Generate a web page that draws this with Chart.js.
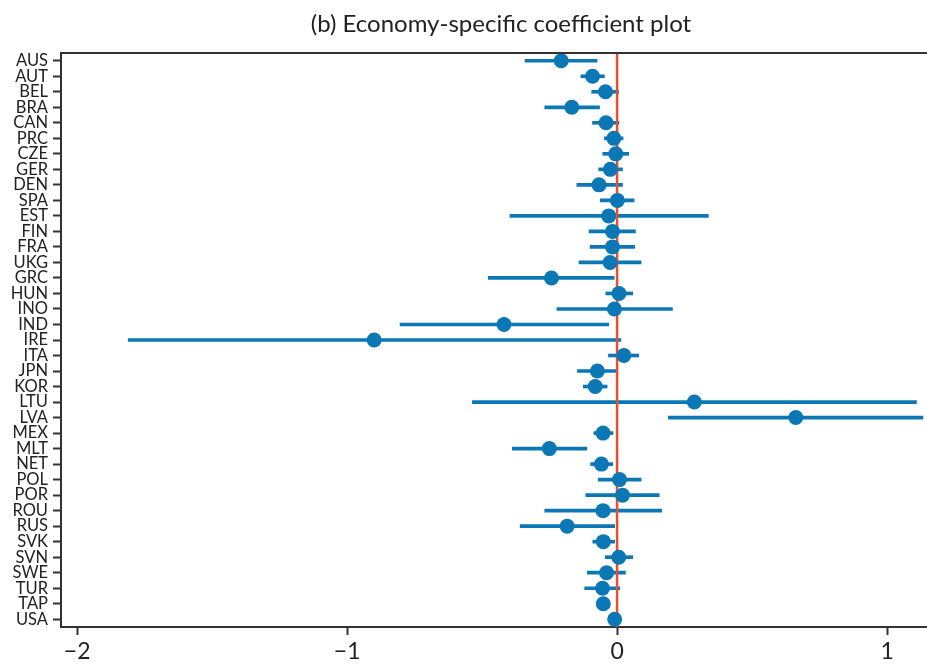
<!DOCTYPE html>
<html>
<head>
<meta charset="utf-8">
<script src="https://cdn.jsdelivr.net/npm/chart.js@4.4.1/dist/chart.umd.min.js"></script>
<style>
  html, body { margin: 0; padding: 0; background: #ffffff; }
  #wrap { width: 927px; height: 664px; position: relative; }
</style>
</head>
<body>
<div id="wrap"><canvas id="c" width="927" height="664"></canvas></div>
<script>
const categories = ["AUS","AUT","BEL","BRA","CAN","PRC","CZE","GER","DEN","SPA","EST","FIN","FRA","UKG","GRC","HUN","INO","IND","IRE","ITA","JPN","KOR","LTU","LVA","MEX","MLT","NET","POL","POR","ROU","RUS","SVK","SVN","SWE","TUR","TAP","USA"];
const estimates = [-0.207,-0.091,-0.043,-0.168,-0.041,-0.012,-0.005,-0.025,-0.067,0.001,-0.031,-0.017,-0.017,-0.026,-0.243,0.007,-0.010,-0.419,-0.900,0.025,-0.073,-0.081,0.286,0.662,-0.052,-0.251,-0.058,0.009,0.020,-0.052,-0.185,-0.051,0.006,-0.039,-0.054,-0.051,-0.009];
const lower = [-0.341,-0.134,-0.094,-0.268,-0.091,-0.047,-0.053,-0.068,-0.149,-0.062,-0.397,-0.104,-0.100,-0.141,-0.477,-0.042,-0.223,-0.804,-1.811,-0.032,-0.147,-0.125,-0.536,0.190,-0.086,-0.388,-0.098,-0.070,-0.116,-0.268,-0.359,-0.090,-0.044,-0.110,-0.120,-0.062,-0.016];
const upper = [-0.074,-0.047,0.006,-0.065,0.007,0.022,0.043,0.020,0.020,0.063,0.338,0.068,0.065,0.089,-0.011,0.058,0.205,-0.031,0.014,0.080,-0.001,-0.037,1.109,1.133,-0.015,-0.112,-0.016,0.089,0.156,0.165,-0.009,-0.009,0.058,0.031,0.010,-0.040,-0.002];
const xTickValues = [-2, -1, 0, 1];
const xTickLabels = ["\u22122", "\u22121", "0", "1"];
const titleText = "(b) Economy-specific coefficient plot";

const BLUE = "#0b78b5";
const RED = "#e8502c";
const AXIS = "#333333";
const FONT = "Lato, 'Open Sans', sans-serif";

const intervals = categories.map((c, i) => [lower[i], upper[i]]);

const zeroLinePlugin = {
  id: "zeroLine",
  beforeDatasetDraw(chart, args) {
    if (args.index !== 1) return;
    const x = chart.scales.x.getPixelForValue(0);
    const a = chart.chartArea;
    const ctx = chart.ctx;
    ctx.save();
    ctx.strokeStyle = RED;
    ctx.lineWidth = 2.5;
    ctx.beginPath();
    ctx.moveTo(x, a.top);
    ctx.lineTo(x, a.bottom);
    ctx.stroke();
    ctx.restore();
  }
};

const framePlugin = {
  id: "frame",
  afterDraw(chart) {
    const a = chart.chartArea;
    const ctx = chart.ctx;
    ctx.save();
    ctx.strokeStyle = AXIS;
    ctx.lineWidth = 2;
    ctx.beginPath();
    ctx.moveTo(a.left, a.top);
    ctx.lineTo(chart.width, a.top);
    ctx.stroke();
    ctx.fillStyle = "#222222";
    ctx.font = "24px " + FONT;
    ctx.textAlign = "center";
    ctx.textBaseline = "middle";
    ctx.fillText(titleText, (a.left + a.right) / 2 + 7, 24);
    ctx.restore();
  }
};

new Chart(document.getElementById("c"), {
  type: "bar",
  data: {
    labels: categories,
    datasets: [
      {
        type: "bar",
        data: intervals,
        backgroundColor: BLUE,
        borderWidth: 0,
        borderSkipped: false,
        barThickness: 3,
        order: 2
      },
      {
        type: "line",
        data: estimates,
        showLine: false,
        pointRadius: 7.5,
        pointBackgroundColor: BLUE,
        pointBorderWidth: 0,
        borderColor: BLUE,
        clip: false,
        order: 1
      }
    ]
  },
  plugins: [zeroLinePlugin, framePlugin],
  options: {
    indexAxis: "y",
    responsive: false,
    animation: false,
    layout: { padding: { top: 53, left: 0, right: 0, bottom: 0 }, autoPadding: false },
    plugins: {
      legend: { display: false },
      tooltip: { enabled: false },
      title: { display: false }
    },
    scales: {
      x: {
        type: "linear",
        min: -2.06,
        max: 1.148,
        afterBuildTicks(scale) {
          scale.ticks = xTickValues.map(v => ({ value: v }));
        },
        afterFit(scale) {
          scale.height = 37;
          scale.paddingLeft = 0;
          scale.paddingRight = 0;
        },
        ticks: {
          callback(v) {
            const i = xTickValues.indexOf(v);
            return i >= 0 ? xTickLabels[i] : "";
          },
          font: { family: FONT, size: 23 },
          color: "#222222",
          padding: 3,
          maxRotation: 0,
          autoSkip: false
        },
        grid: {
          drawOnChartArea: false,
          drawTicks: true,
          tickLength: 8,
          tickWidth: 2,
          color: AXIS
        },
        border: { display: true, color: AXIS, width: 2 }
      },
      y: {
        type: "category",
        offset: true,
        afterFit(scale) {
          scale.width = 61;
          scale.paddingTop = 0;
          scale.paddingBottom = 0;
        },
        ticks: {
          font: { family: FONT, size: 16.5 },
          color: "#222222",
          padding: 5,
          autoSkip: false
        },
        grid: {
          drawOnChartArea: false,
          drawTicks: true,
          tickLength: 8,
          tickWidth: 2,
          color: AXIS,
          offset: false
        },
        border: { display: true, color: AXIS, width: 2 }
      }
    }
  }
});
</script>
</body>
</html>
